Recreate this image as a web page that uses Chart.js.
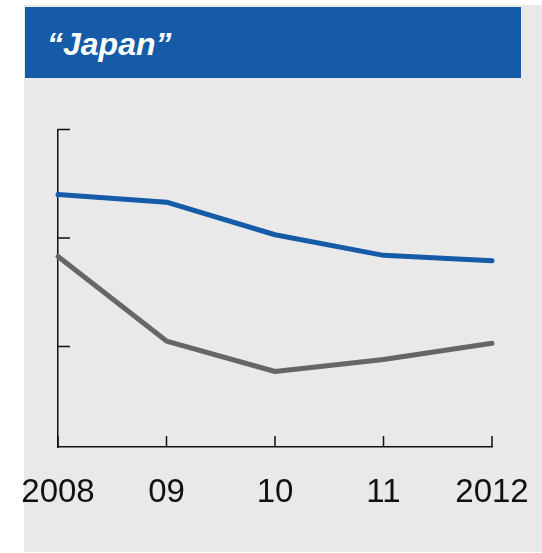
<!DOCTYPE html>
<html>
<head>
<meta charset="utf-8">
<script src="https://cdn.jsdelivr.net/npm/chart.js@4.4.1/dist/chart.umd.min.js"></script>
<style>
  html, body { margin: 0; padding: 0; background: #ffffff; }
  #wrap { position: relative; width: 542px; height: 553px; overflow: hidden; }
  #panel { position: absolute; left: 24px; top: 5px; width: 518px; height: 547px; background: #e9e9e9; }
  #band { position: absolute; left: 25px; top: 7px; width: 496px; height: 71px; background: #155ba8; }
  #band span { position: absolute; left: 22px; top: 21px; color: #ffffff; font: italic bold 32px "Liberation Sans", Arial, sans-serif; line-height: 32px; white-space: nowrap; }
  #c { position: absolute; left: 0; top: 0; }
</style>
</head>
<body>
<div id="wrap">
  <div id="panel"></div>
  <div id="band"><span>“Japan”</span></div>
  <canvas id="c" width="542" height="553"></canvas>
</div>
<script>
// Years on the horizontal axis
const years = ['2008', '09', '10', '11', '2012'];
// Two series (index units)
const seriesBlue = [2.40, 2.33, 2.03, 1.84, 1.79];
const seriesGray = [1.83, 1.05, 0.77, 0.88, 1.03];
// Y tick levels marked on the vertical axis
const yTickValues = [1, 2, 3];

// Inward-pointing tick marks on both axes
const innerTicks = {
  id: 'innerTicks',
  afterDraw(chart) {
    const ctx = chart.ctx;
    const x = chart.scales.x, y = chart.scales.y;
    ctx.save();
    ctx.strokeStyle = '#111111';
    ctx.lineWidth = 1.5;
    ctx.beginPath();
    yTickValues.forEach(v => {
      const py = y.getPixelForValue(v);
      ctx.moveTo(x.left, py);
      ctx.lineTo(x.left + 12, py);
    });
    years.forEach((_, i) => {
      const px = x.getPixelForValue(i);
      ctx.moveTo(px, y.bottom);
      ctx.lineTo(px, y.bottom - 11);
    });
    ctx.stroke();
    ctx.restore();
  }
};

new Chart(document.getElementById('c'), {
  type: 'line',
  data: {
    labels: years,
    datasets: [
      { data: seriesBlue, borderColor: '#155ba8', borderWidth: 5, borderCapStyle: 'round', borderJoinStyle: 'round', pointRadius: 0, tension: 0, clip: false },
      { data: seriesGray, borderColor: '#666666', borderWidth: 5, borderCapStyle: 'round', borderJoinStyle: 'round', pointRadius: 0, tension: 0, clip: false }
    ]
  },
  options: {
    responsive: false,
    animation: false,
    events: [],
    layout: { padding: { left: 58, right: 50, top: 129.5, bottom: 0 } },
    plugins: { legend: { display: false }, tooltip: { enabled: false }, title: { display: false } },
    scales: {
      x: {
        offset: false,
        // outward ticks kept invisible; they only space the labels below the axis
        grid: { display: true, drawOnChartArea: false, drawTicks: true, tickLength: 26, tickColor: 'rgba(0,0,0,0)' },
        border: { display: true, color: '#111111', width: 1.5 },
        ticks: { color: '#111111', font: { family: '"Liberation Sans", Arial, sans-serif', size: 33 }, padding: 0, maxRotation: 0, autoSkip: false },
        afterFit(scale) { scale.height = 106; }
      },
      y: {
        min: 0.074, max: 3,
        grid: { display: false, drawTicks: false },
        border: { display: true, color: '#111111', width: 1.5 },
        ticks: { display: false },
        afterFit(scale) { scale.width = 0; }
      }
    }
  },
  plugins: [innerTicks]
});
</script>
</body>
</html>
